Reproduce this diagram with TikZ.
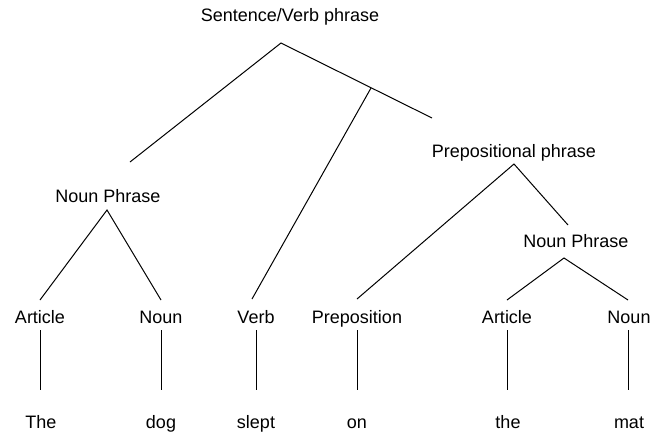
\documentclass[tikz,border=0pt]{standalone}
\usepackage{fontspec}
\setmainfont{Liberation Sans}
\begin{document}
\begin{tikzpicture}[x=1pt,y=-1pt,
  lbl/.style={inner sep=0pt,anchor=base,font=\fontsize{18}{21}\selectfont},
  edge/.style={line width=1pt,line cap=butt}]
\useasboundingbox (0,0) rectangle (665,432);
% labels
\node[lbl] (s) at (290,21) {Sentence/Verb phrase};
\node[lbl] (np1) at (108,202) {Noun Phrase};
\node[lbl] (pp) at (514,157) {Prepositional phrase};
\node[lbl] (np2) at (576,247) {Noun Phrase};
\node[lbl] (a1) at (40,323) {Article};
\node[lbl] (n1) at (161,323) {Noun};
\node[lbl] (v) at (256,323) {Verb};
\node[lbl] (p) at (357,323) {Preposition};
\node[lbl] (a2) at (507,323) {Article};
\node[lbl] (n2) at (629,323) {Noun};
\node[lbl] (w1) at (41,428) {The};
\node[lbl] (w2) at (161,428) {dog};
\node[lbl] (w3) at (256,428) {slept};
\node[lbl] (w4) at (357,428) {on};
\node[lbl] (w5) at (508,428) {the};
\node[lbl] (w6) at (629,428) {mat};
% branch points
\coordinate (sTop) at (281,43);
\coordinate (sL) at (130,162);
\coordinate (sR) at (432,118);
\coordinate (sJ) at (371,88);
\coordinate (vTop) at (252,299);
\coordinate (np1Top) at (107,210);
\coordinate (a1Top) at (40,300);
\coordinate (n1Top) at (161,300);
\coordinate (ppTop) at (514,164);
\coordinate (pTop) at (357,299);
\coordinate (ppR) at (568,225);
\coordinate (np2Top) at (564,258);
\coordinate (a2Top) at (507,300);
\coordinate (n2Top) at (628,300);
\foreach \x/\n in {40/a1,161/n1,256/v,357/p,507/a2,628/n2}{
  \coordinate (\n U) at (\x+0.5,330);
  \coordinate (\n D) at (\x+0.5,390);
}
% connectors
\draw[edge] (sL) -- (sTop) -- (sR);
\draw[edge] (sJ) -- (vTop);
\draw[edge] (a1Top) -- (np1Top) -- (n1Top);
\draw[edge] (pTop) -- (ppTop) -- (ppR);
\draw[edge] (a2Top) -- (np2Top) -- (n2Top);
\foreach \n in {a1,n1,v,p,a2,n2}{
  \draw[edge] (\n U) -- (\n D);
}
\end{tikzpicture}
\end{document}
